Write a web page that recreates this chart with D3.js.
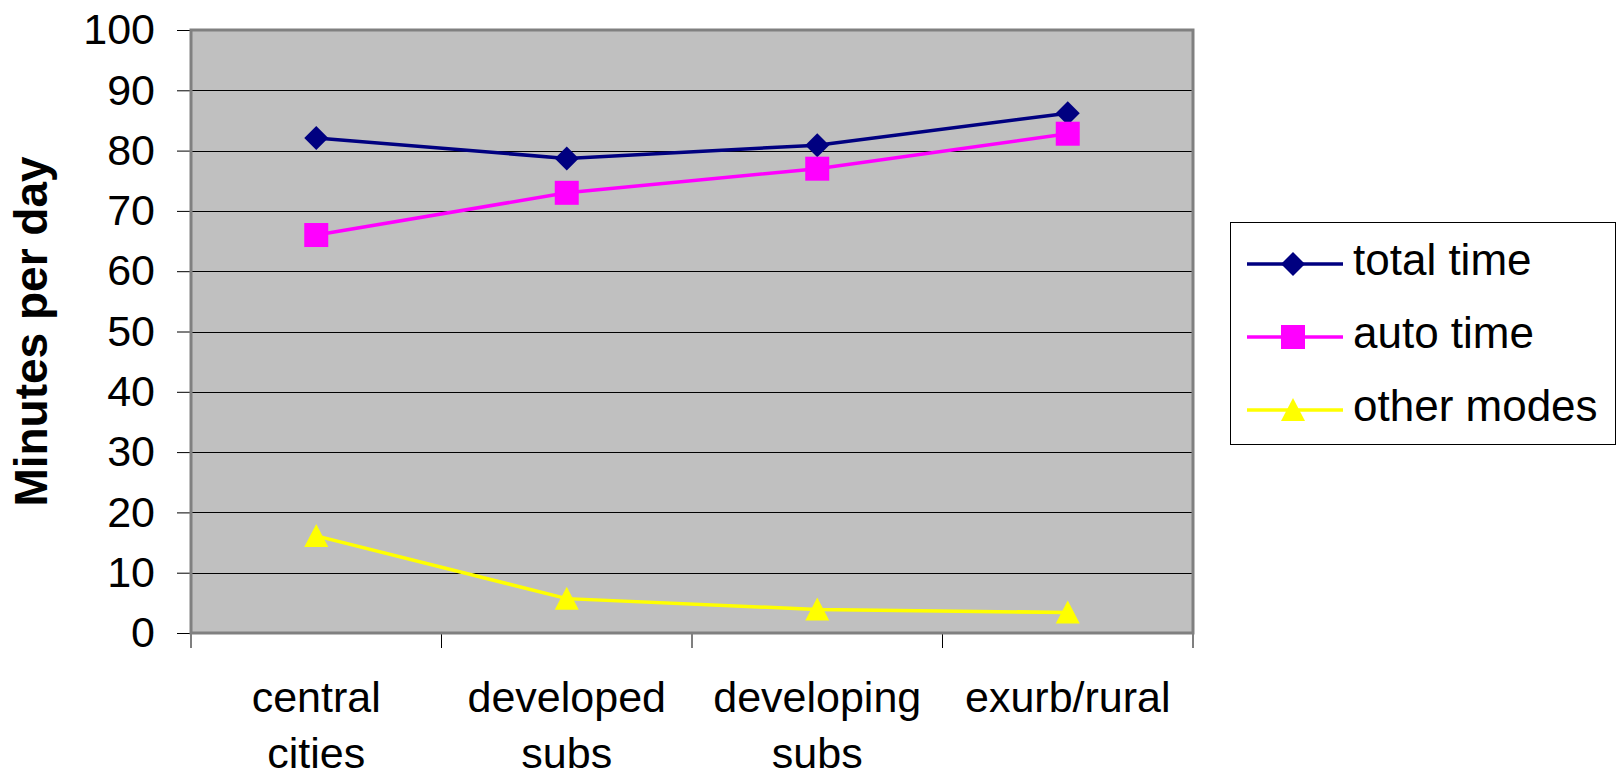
<!DOCTYPE html>
<html>
<head>
<meta charset="utf-8">
<script src="https://cdn.jsdelivr.net/npm/d3@7"></script>
<style>
  html, body { margin: 0; padding: 0; background: #fff; }
  svg { display: block; }
  text { font-family: "Liberation Sans", Arial, sans-serif; fill: #000; }
</style>
</head>
<body>
<svg id="chart" width="1617" height="778"></svg>
<script>
// Daily travel minutes by residential location
const categories = ["central cities", "developed subs", "developing subs", "exurb/rural"];
const totalTime  = [82.1, 78.7, 80.9, 86.2];
const autoTime   = [66.0, 73.0, 77.0, 82.8];
const otherModes = [16.1, 5.7, 3.9, 3.4];
const seriesNames = ["total time", "auto time", "other modes"];
const yTicks = [0, 10, 20, 30, 40, 50, 60, 70, 80, 90, 100];
const yTitle = "Minutes per day";

const series = [
  { name: seriesNames[0], values: totalTime,  color: "#000080", shape: "diamond" },
  { name: seriesNames[1], values: autoTime,   color: "#FF00FF", shape: "square" },
  { name: seriesNames[2], values: otherModes, color: "#FFFF00", shape: "triangle" }
];

const svg = d3.select("#chart");
const plot = { left: 191, right: 1193, top: 30, bottom: 633 };

const x = d3.scaleBand().domain(categories).range([plot.left, plot.right]).padding(0);
const y = d3.scaleLinear().domain([0, 100]).range([plot.bottom, plot.top]);
const cx = c => x(c) + x.bandwidth() / 2;

// plot background
svg.append("rect")
  .attr("x", plot.left).attr("y", plot.top)
  .attr("width", plot.right - plot.left).attr("height", plot.bottom - plot.top)
  .attr("fill", "#C0C0C0");

// horizontal gridlines
svg.append("g").selectAll("line")
  .data(yTicks.filter(t => t > 0 && t < 100))
  .join("line")
  .attr("x1", plot.left).attr("x2", plot.right)
  .attr("y1", d => Math.round(y(d)) + 0.5).attr("y2", d => Math.round(y(d)) + 0.5)
  .attr("stroke", "#000").attr("stroke-width", 1);

// y axis: ticks and labels
const yAxis = d3.axisLeft(y).tickValues(yTicks).tickSize(14).tickPadding(22).tickFormat(d3.format("d"));
const gy = svg.append("g").attr("transform", `translate(${plot.left},0)`).call(yAxis);
gy.select(".domain").remove();
gy.selectAll(".tick line").attr("stroke", "#000").attr("stroke-width", 1);
gy.selectAll(".tick text")
  .attr("font-size", 43).attr("fill", "#000")
  .style("font-family", "'Liberation Sans', Arial, sans-serif");

// category tick marks at band edges
const edges = categories.map(c => x(c)).concat([plot.right]);
svg.append("g").selectAll("line")
  .data(edges)
  .join("line")
  .attr("x1", d => d).attr("x2", d => d)
  .attr("y1", plot.bottom).attr("y2", plot.bottom + 15)
  .attr("stroke", "#000").attr("stroke-width", 1);

// category labels (wrapped on spaces)
const xl = svg.append("g");
categories.forEach(c => {
  const lines = c.split(" ");
  const t = xl.append("text")
    .attr("x", cx(c)).attr("y", 712)
    .attr("text-anchor", "middle").attr("font-size", 43);
  lines.forEach((ln, i) => {
    t.append("tspan").attr("x", cx(c)).attr("dy", i === 0 ? 0 : 56).text(ln);
  });
});

// plot border / axis lines
svg.append("rect")
  .attr("x", plot.left).attr("y", plot.top)
  .attr("width", plot.right - plot.left).attr("height", plot.bottom - plot.top)
  .attr("fill", "none").attr("stroke", "#808080").attr("stroke-width", 3);

// y axis title
svg.append("text")
  .attr("transform", `translate(47,${(plot.top + plot.bottom) / 2}) rotate(-90)`)
  .attr("text-anchor", "middle")
  .attr("font-size", 46).attr("font-weight", "bold")
  .text(yTitle);

// marker shapes
const S = 24;
function marker(sel, shape, color) {
  if (shape === "diamond") {
    sel.append("path").attr("d", `M0,${-S/2}L${S/2},0L0,${S/2}L${-S/2},0Z`).attr("fill", color);
  } else if (shape === "square") {
    sel.append("rect").attr("x", -S/2).attr("y", -S/2).attr("width", S).attr("height", S).attr("fill", color);
  } else {
    sel.append("path").attr("d", `M0,${-S/2}L${S/2},${S/2 - 1}L${-S/2},${S/2 - 1}Z`).attr("fill", color);
  }
}

// series lines and markers
const line = d3.line().x((d, i) => cx(categories[i])).y(d => y(d));
series.forEach(s => {
  svg.append("path")
    .attr("d", line(s.values))
    .attr("fill", "none").attr("stroke", s.color).attr("stroke-width", 3.5);
  s.values.forEach((v, i) => {
    const g = svg.append("g").attr("transform", `translate(${cx(categories[i])},${y(v)})`);
    marker(g, s.shape, s.color);
  });
});

// legend
const legend = svg.append("g");
legend.append("rect")
  .attr("x", 1230.5).attr("y", 222.5).attr("width", 385).attr("height", 222)
  .attr("fill", "#fff").attr("stroke", "#000").attr("stroke-width", 1);
series.forEach((s, i) => {
  const ly = 264 + i * 73;
  legend.append("line")
    .attr("x1", 1247).attr("x2", 1343).attr("y1", ly).attr("y2", ly)
    .attr("stroke", s.color).attr("stroke-width", 3.5);
  const g = legend.append("g").attr("transform", `translate(1293,${ly})`);
  marker(g, s.shape, s.color);
  legend.append("text")
    .attr("x", 1353).attr("y", ly + 11)
    .attr("font-size", 44)
    .text(s.name);
});
</script>
</body>
</html>
